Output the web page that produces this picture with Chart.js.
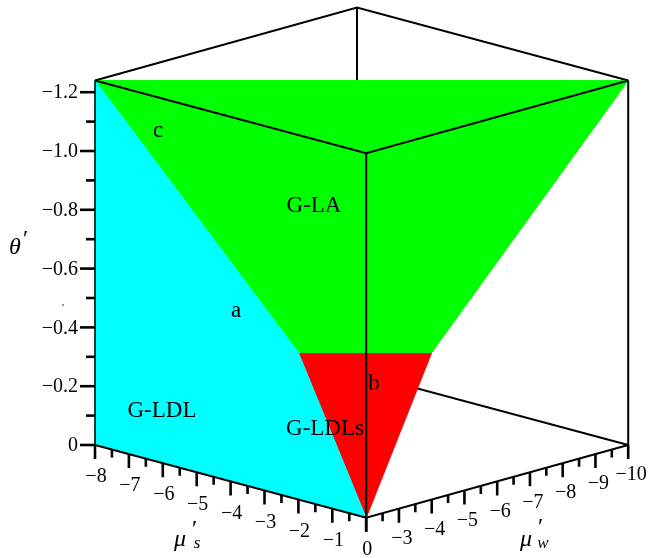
<!DOCTYPE html>
<html>
<head>
<meta charset="utf-8">
<script src="https://cdn.jsdelivr.net/npm/chart.js@4.4.0/dist/chart.umd.min.js"></script>
<style>
  html, body { margin: 0; padding: 0; background: #fff; }
  canvas { display: block; }
</style>
</head>
<body>
<canvas id="phaseChart" width="649" height="558"></canvas>
<script>
// box limits (mu_s', mu_w', theta')
const muSRange = [-8, 0];
const muWRange = [-2, -10];
const thetaRange = [0, -1.24];

// tick values and labels
const muSTicks = [-8, -7, -6, -5, -4, -3, -2, -1, 0];
const muSLabels = ['−8', '−7', '−6', '−5', '−4', '−3', '−2', '−1', '0'];
const muWTicks = [-2, -3, -4, -5, -6, -7, -8, -9, -10];
const muWLabels = ['', '−3', '−4', '−5', '−6', '−7', '−8', '−9', '−10'];
const thetaTicks = [0, -0.2, -0.4, -0.6, -0.8, -1.0, -1.2];
const thetaLabels = ['0', '−0.2', '−0.4', '−0.6', '−0.8', '−1.0', '−1.2'];

// phase regions, corners as [mu_s', mu_w', theta']
const regionLDL = [[-8, -2, -1.24], [-2, -2, -0.5], [0, -2, 0], [-8, -2, 0]];
const regionLA = [[-8, -2, -1.24], [0, -10, -1.24], [0, -4, -0.5], [-2, -2, -0.5]];
const regionLDLs = [[-2, -2, -0.5], [0, -4, -0.5], [0, -2, 0]];

// orthographic view of the box
const project = ([ms, mw, th]) => ({
  x: 95 + (ms + 8) * 33.9 + (-2 - mw) * 32.75,
  y: 445 + (ms + 8) * 9.1 - (-2 - mw) * 9.1 + th * 294,
});

const [s0, s1] = muSRange;
const [w0, w1] = muWRange;
const [t0, t1] = thetaRange;

const line = (pts, order, width = 2) => ({
  data: pts.map(project),
  showLine: true,
  pointRadius: 0,
  borderColor: '#000',
  borderWidth: width,
  fill: false,
  order,
});

const region = (pts, color) => ({
  data: [...pts, pts[0]].map(project),
  showLine: true,
  pointRadius: 0,
  borderColor: color,
  borderWidth: 1,
  backgroundColor: color,
  fill: 'shape',
  order: 5,
});

// tick segment: start at projected point, go a few pixels in screen space
const tick = (pt, dx, dy, width = 2.6) => {
  const p = project(pt);
  return {
    data: [p, { x: p.x + dx, y: p.y + dy }],
    showLine: true,
    pointRadius: 0,
    borderColor: '#000',
    borderWidth: width,
    order: 1,
  };
};

const datasets = [];

// hidden edges first
datasets.push(line([[s0, w0, t1], [s0, w1, t1], [s1, w1, t1]], 9));
datasets.push(line([[s0, w1, t0], [s0, w1, t1]], 9));
datasets.push(line([[s0, w0, t0], [s0, w1, t0], [s1, w1, t0]], 9));

datasets.push(region(regionLDL, '#00ffff'));
datasets.push(region(regionLA, '#00ff00'));
datasets.push(region(regionLDLs, '#ff0000'));

// front edges
datasets.push(line([[s0, w0, t1], [s1, w0, t1], [s1, w1, t1]], 2));
datasets.push(line([[s1, w0, t0], [s1, w0, t1]], 2));
datasets.push(line([[s1, w1, t0], [s1, w1, t1]], 2));
datasets.push(line([[s0, w0, t0], [s0, w0, t1]], 2, 1.5));
datasets.push(line([[s0, w0, t0], [s1, w0, t0], [s1, w1, t0]], 2));

// ticks
thetaTicks.forEach((t) => datasets.push(tick([s0, w0, t], -15, 0)));
for (let t = -0.1; t > -1.15; t -= 0.2) datasets.push(tick([s0, w0, t], -9, 0));
muSTicks.forEach((s) => datasets.push(tick([s, w0, t0], 0, 14)));
for (let s = -7.5; s < 0; s += 1) datasets.push(tick([s, w0, t0], 0, 8));
muWTicks.forEach((w) => datasets.push(tick([s1, w, t0], 0, 14)));
for (let w = -2.5; w > -10; w -= 1) datasets.push(tick([s1, w, t0], 0, 8));

const serif = 'Liberation Serif, Times New Roman, serif';

const textPlugin = {
  id: 'texts',
  afterDatasetsDraw(chart) {
    const { ctx, scales } = chart;
    const px = (p) => ({ x: scales.x.getPixelForValue(p.x), y: scales.y.getPixelForValue(p.y) });
    const put = (str, x, y, font, align = 'center', base = 'middle') => {
      ctx.font = font;
      ctx.textAlign = align;
      ctx.textBaseline = base;
      ctx.fillText(str, x, y);
    };
    ctx.save();
    ctx.fillStyle = '#000';

    const tickFont = '20px ' + serif;
    thetaTicks.forEach((t, i) => {
      const p = px(project([s0, w0, t]));
      put(thetaLabels[i], p.x - 17, p.y + 1, tickFont, 'right');
    });
    muSTicks.forEach((s, i) => {
      const p = px(project([s, w0, t0]));
      put(muSLabels[i], p.x + 1, p.y + 32, tickFont);
    });
    muWTicks.forEach((w, i) => {
      const p = px(project([s1, w, t0]));
      put(muWLabels[i], p.x + 3, p.y + 30, tickFont);
    });

    // axis titles
    const it = 'italic 24px ' + serif;
    const sub = 'italic 17px ' + serif;
    const pr = 'italic 24px ' + serif;
    put('θ', 15, 248, it);
    put('′', 24, 246, pr, 'center', 'alphabetic');
    put('μ', 180, 540, it);
    put('′', 193, 536, pr, 'center', 'alphabetic');
    put('s', 197, 544, sub);
    put('μ', 526, 540, it);
    put('′', 539, 534, pr, 'center', 'alphabetic');
    put('w', 543, 544, sub);
    put('\'', 63, 308, '11px ' + serif);

    // region and boundary names
    const lab = '23px ' + serif;
    put('G-LA', 314, 212, lab, 'center', 'alphabetic');
    put('G-LDL', 162, 417, lab, 'center', 'alphabetic');
    put('G-LDLs', 325, 435, lab, 'center', 'alphabetic');
    put('a', 236, 317, lab, 'center', 'alphabetic');
    put('b', 374, 390, lab, 'center', 'alphabetic');
    put('c', 158, 137, lab, 'center', 'alphabetic');
    ctx.restore();
  },
};

new Chart(document.getElementById('phaseChart'), {
  type: 'scatter',
  data: { datasets },
  options: {
    responsive: false,
    animation: false,
    layout: { padding: 0 },
    scales: {
      x: { type: 'linear', min: 0, max: 649, display: false },
      y: { type: 'linear', min: 0, max: 558, reverse: true, display: false },
    },
    plugins: {
      legend: { display: false },
      tooltip: { enabled: false },
    },
  },
  plugins: [textPlugin],
});
</script>
</body>
</html>
